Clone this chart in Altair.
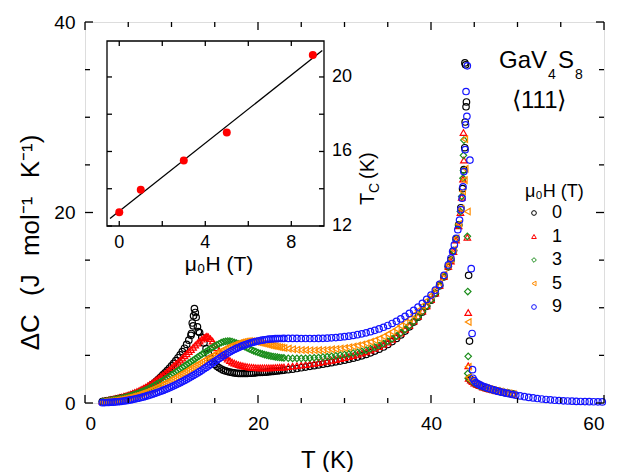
import altair as alt
import pandas as pd

FONT = "Liberation Sans"
W, H = 519, 381

# ---- main panel: excess specific heat vs temperature ----
T_GRID = [2.0, 2.5, 3.0, 3.5, 4.0, 4.5, 5.0, 5.5, 6.0, 6.5, 7.0, 7.5, 8.0, 8.5, 9.0, 9.5,
          10.0, 10.5, 11.0, 11.5, 12.0, 12.5, 13.0, 13.5, 14.0, 14.5, 15.0, 15.5, 16.0, 16.5,
          17.0, 17.5, 18.0, 18.5, 19.0, 19.5, 20.0, 20.5, 21.0, 21.5, 22.0, 22.5, 23.0, 23.5,
          24.0, 24.5, 25.0, 25.5, 26.0, 26.5, 27.0, 27.5, 28.0, 28.5, 29.0, 29.5, 30.0, 30.5,
          31.0, 31.5, 32.0, 32.5, 33.0, 33.5, 34.0, 34.5, 35.0, 35.5, 36.0, 36.5, 37.0, 37.5,
          38.0, 38.5, 39.0, 39.5, 40.0, 40.5, 41.0, 41.5, 42.0]

C_0T = [0.15, 0.22, 0.3, 0.38, 0.48, 0.58, 0.7, 0.85, 1.02, 1.22, 1.45, 1.75, 2.1, 2.5, 2.95, 3.4,
        3.9, 4.45, 5.05, 5.75, 6.6, 8.1, 8.0, 6.9, 5.7, 4.7, 4.05, 3.7, 3.45, 3.3,
        3.2, 3.12, 3.1, 3.1, 3.12, 3.15, 3.2, 3.22, 3.25, 3.3, 3.35, 3.4, 3.45, 3.5,
        3.55, 3.62, 3.7, 3.77, 3.85, 3.92, 4.0, 4.08, 4.15, 4.23, 4.32, 4.4, 4.5, 4.6,
        4.7, 4.82, 4.95, 5.1, 5.27, 5.45, 5.65, 5.88, 6.15, 6.45, 6.78, 7.15, 7.55, 8.0,
        8.5, 9.0, 9.55, 10.15, 10.8, 11.5, 12.3, 13.25, 14.3]

C_1T = [0.2, 0.27, 0.36, 0.46, 0.57, 0.7, 0.85, 1.02, 1.2, 1.42, 1.66, 1.95, 2.25, 2.6, 2.95, 3.3,
        3.7, 4.1, 4.5, 4.95, 5.4, 5.85, 6.3, 6.7, 6.95, 6.75, 6.15, 5.5, 5.0, 4.6,
        4.3, 4.1, 3.95, 3.85, 3.78, 3.73, 3.7, 3.69, 3.69, 3.7, 3.72, 3.75, 3.78, 3.82,
        3.87, 3.92, 3.97, 4.03, 4.1, 4.17, 4.24, 4.32, 4.4, 4.48, 4.57, 4.66, 4.76, 4.86,
        4.97, 5.1, 5.24, 5.38, 5.55, 5.73, 5.93, 6.15, 6.4, 6.68, 7.0, 7.35, 7.73, 8.15,
        8.6, 9.1, 9.65, 10.2, 10.85, 11.55, 12.35, 13.3, 14.35]

C_3T = [0.15, 0.21, 0.28, 0.36, 0.45, 0.56, 0.68, 0.82, 0.98, 1.16, 1.36, 1.58, 1.82, 2.08, 2.36, 2.65,
        2.95, 3.25, 3.56, 3.87, 4.18, 4.49, 4.8, 5.1, 5.4, 5.7, 5.98, 6.22, 6.42, 6.5,
        6.45, 6.3, 6.1, 5.9, 5.68, 5.48, 5.3, 5.15, 5.02, 4.92, 4.84, 4.78, 4.73, 4.7,
        4.68, 4.68, 4.69, 4.7, 4.72, 4.75, 4.78, 4.82, 4.86, 4.91, 4.96, 5.02, 5.08, 5.15,
        5.23, 5.32, 5.43, 5.55, 5.7, 5.86, 6.04, 6.25, 6.48, 6.74, 7.03, 7.36, 7.72, 8.12,
        8.56, 9.05, 9.6, 10.18, 10.82, 11.52, 12.32, 13.28, 14.35]

C_5T = [0.1, 0.15, 0.2, 0.27, 0.35, 0.44, 0.55, 0.67, 0.8, 0.96, 1.13, 1.32, 1.52, 1.74, 1.97, 2.21,
        2.46, 2.72, 2.98, 3.25, 3.52, 3.8, 4.07, 4.34, 4.6, 4.86, 5.11, 5.36, 5.6, 5.82,
        6.02, 6.2, 6.35, 6.46, 6.5, 6.47, 6.38, 6.27, 6.16, 6.05, 5.95, 5.86, 5.78, 5.71,
        5.65, 5.6, 5.57, 5.55, 5.54, 5.54, 5.55, 5.57, 5.6, 5.63, 5.67, 5.72, 5.78, 5.85,
        5.93, 6.03, 6.14, 6.27, 6.42, 6.59, 6.78, 6.99, 7.23, 7.49, 7.78, 8.1, 8.45, 8.83,
        9.25, 9.7, 10.2, 10.72, 11.3, 11.95, 12.65, 13.5, 14.5]

C_9T = [0.03, 0.05, 0.08, 0.11, 0.15, 0.21, 0.28, 0.37, 0.47, 0.58, 0.7, 0.84, 0.99, 1.15, 1.32, 1.5,
        1.7, 1.91, 2.13, 2.37, 2.62, 2.88, 3.15, 3.44, 3.74, 4.05, 4.36, 4.67, 4.97, 5.25,
        5.5, 5.73, 5.93, 6.11, 6.27, 6.4, 6.51, 6.6, 6.67, 6.72, 6.75, 6.77, 6.78, 6.78,
        6.78, 6.78, 6.77, 6.77, 6.77, 6.77, 6.78, 6.79, 6.81, 6.84, 6.87, 6.91, 6.96, 7.02,
        7.09, 7.17, 7.26, 7.37, 7.49, 7.63, 7.78, 7.95, 8.14, 8.35, 8.58, 8.83, 9.1, 9.4,
        9.72, 10.07, 10.45, 10.87, 11.33, 11.85, 12.45, 13.4, 14.5]

# denser low-temperature sweep (between the grid points above)
T_FINE = [2.25, 2.75, 3.25, 3.75, 4.25, 4.75, 5.25, 5.75, 6.25, 6.75, 7.25, 7.75, 8.25, 8.75,
          9.25, 9.75, 10.25, 10.75, 11.25, 11.75, 12.25, 12.75, 13.25, 13.75, 14.25, 14.75,
          15.25, 15.75, 16.25, 16.75, 17.25, 17.75, 18.25, 18.75, 19.25, 19.75, 20.25, 20.75,
          21.25, 21.75, 22.25, 22.75]
F_0T = [0.18, 0.26, 0.34, 0.43, 0.53, 0.64, 0.77, 0.93, 1.12, 1.33, 1.6, 1.92, 2.3, 2.72,
        3.17, 3.65, 4.17, 4.75, 5.4, 6.15, 7.1, 9.5, 7.4, 6.3, 5.2, 4.35,
        3.85, 3.57, 3.37, 3.25, 3.16, 3.11, 3.1, 3.11, 3.13, 3.17, 3.21, 3.23,
        3.27, 3.32, 3.37, 3.42]
F_1T = [0.23, 0.31, 0.41, 0.51, 0.63, 0.77, 0.93, 1.11, 1.31, 1.54, 1.8, 2.1, 2.42, 2.77,
        3.12, 3.5, 3.9, 4.3, 4.72, 5.17, 5.62, 6.08, 6.5, 6.85, 6.95, 6.5,
        5.8, 5.25, 4.8, 4.45, 4.2, 4.02, 3.9, 3.81, 3.75, 3.71, 3.69, 3.69,
        3.69, 3.71, 3.73, 3.76]
F_3T = [0.18, 0.24, 0.32, 0.4, 0.5, 0.62, 0.75, 0.9, 1.07, 1.26, 1.47, 1.7, 1.95, 2.22,
        2.5, 2.8, 3.1, 3.4, 3.71, 4.02, 4.33, 4.64, 4.95, 5.25, 5.55, 5.84,
        6.1, 6.33, 6.47, 6.49, 6.38, 6.2, 6.0, 5.79, 5.58, 5.39, 5.22, 5.08,
        4.97, 4.88, 4.81, 4.75]
F_5T = [0.12, 0.17, 0.23, 0.31, 0.39, 0.49, 0.61, 0.73, 0.88, 1.04, 1.22, 1.42, 1.63, 1.85,
        2.09, 2.33, 2.59, 2.85, 3.11, 3.38, 3.66, 3.93, 4.2, 4.47, 4.73, 4.98,
        5.23, 5.48, 5.71, 5.92, 6.11, 6.28, 6.41, 6.49, 6.49, 6.43, 6.33, 6.22,
        6.1, 6.0, 5.9, 5.82]
F_9T = [0.04, 0.06, 0.09, 0.13, 0.18, 0.24, 0.32, 0.42, 0.52, 0.64, 0.77, 0.91, 1.07, 1.23,
        1.41, 1.6, 1.8, 2.02, 2.25, 2.5, 2.75, 3.01, 3.29, 3.59, 3.89, 4.2,
        4.51, 4.82, 5.11, 5.38, 5.62, 5.83, 6.02, 6.19, 6.34, 6.46, 6.56, 6.64,
        6.7, 6.74, 6.76, 6.77]

# additional points around the low-T anomaly and the sharp transition near 44 K
EXTRA_0T_T = [12.3, 12.4, 12.55, 12.65, 12.85, 13.1, 42.3, 42.6, 42.9, 43.2, 43.45, 43.65,
              43.8, 43.9, 43.95, 44.05, 44.1, 43.92, 44.0, 44.35, 44.45, 44.5]
EXTRA_0T_C = [7.3, 8.4, 9.15, 9.9, 9.0, 7.5, 15.0, 16.0, 17.2, 18.7, 20.5, 22.5,
              24.5, 26.8, 29.5, 31.1, 31.6, 35.7, 35.5, 13.4, 6.5, 2.5]
EXTRA_1T_T = [13.9, 14.1, 42.3, 42.6, 42.9, 43.2, 43.4, 43.55, 43.7, 43.8, 43.75, 44.2, 44.3,
              44.3, 44.35]
EXTRA_1T_C = [6.9, 7.0, 14.9, 15.9, 17.1, 18.6, 20.0, 21.6, 23.5, 25.5, 28.4, 17.4, 9.5,
              3.9, 2.6]
EXTRA_3T_T = [42.3, 42.6, 42.9, 43.2, 43.4, 43.55, 43.7, 43.75, 43.75, 43.8, 44.2,
              44.25, 44.3, 44.25, 44.3]
EXTRA_3T_C = [15.0, 16.0, 17.2, 18.7, 20.1, 21.7, 23.6, 24.4, 26.0, 27.6, 17.5,
              11.7, 4.9, 3.1, 2.6]
EXTRA_5T_T = [42.3, 42.6, 42.9, 43.2, 43.45, 43.65, 43.85, 43.95, 43.9, 44.2, 44.3,
              44.3, 44.35]
EXTRA_5T_C = [15.1, 16.1, 17.3, 18.8, 20.4, 22.2, 23.4, 24.6, 27.7, 20.1, 8.5,
              3.8, 2.7]
EXTRA_9T_T = [42.3, 42.5, 42.7, 42.9, 43.1, 43.3, 43.45, 43.6, 43.7, 43.8, 43.95, 44.0, 44.15,
              44.05, 44.2, 44.5, 44.65, 44.75, 44.8]
EXTRA_9T_C = [15.2, 15.9, 16.6, 17.3, 18.2, 19.2, 20.3, 21.5, 22.7, 24.3, 26.6, 29.2, 30.1,
              32.7, 35.4, 25.5, 14.1, 7.3, 3.5]

# paramagnetic tail above the transition
TAIL_T = [44.6, 44.8, 45.0, 45.3, 45.6, 46.0, 46.4, 46.8, 47.2, 47.6, 48.0, 48.5, 49.0, 49.5]
TAIL_C = [2.4, 2.25, 2.1, 1.95, 1.82, 1.68, 1.56, 1.46, 1.37, 1.28, 1.2, 1.1, 1.02, 0.93]
TAIL_9T_T = [44.85, 45.0, 45.2, 45.4, 45.6, 45.8, 46.0, 46.3, 46.6, 46.9, 47.2, 47.5, 47.8, 48.1,
             48.4, 48.7, 49.0, 49.4, 49.8, 50.3, 50.8, 51.3, 51.8, 52.3, 52.8, 53.3, 53.8, 54.3,
             54.8, 55.3, 55.8, 56.3, 56.8, 57.3, 57.8, 58.3, 58.8, 59.3, 59.8]
TAIL_9T_C = [2.6, 2.35, 2.15, 2.02, 1.92, 1.84, 1.76, 1.66, 1.56, 1.47, 1.38, 1.3, 1.22, 1.15,
             1.09, 1.03, 0.97, 0.89, 0.82, 0.74, 0.66, 0.59, 0.53, 0.47, 0.42, 0.37, 0.33, 0.29,
             0.26, 0.23, 0.21, 0.19, 0.17, 0.16, 0.15, 0.14, 0.13, 0.12, 0.11]

FIELDS = ["0", "1", "3", "5", "9"]
COLORS = ["#000000", "#ff0000", "#1a8c1a", "#ff8c00", "#1414ff"]
SHAPES = ["circle", "triangle-up", "diamond", "triangle-left", "circle"]

# ---- inset: transition temperature vs field ----
H_FIELD = [0, 1, 3, 5, 9]
T_C = [12.74, 13.94, 15.52, 17.02, 21.18]

X_MAJOR = [0, 20, 40, 60]
X_MINOR = [5, 10, 15, 25, 30, 35, 45, 50, 55]
Y_MAJOR = [0, 20, 40]
Y_MINOR = [5, 10, 15, 25, 30, 35]
IN_X_TICKS = [0, 2, 4, 6, 8]
IN_X_LABELS = [0, 4, 8]
IN_Y_TICKS = [12, 14, 16, 18, 20]
IN_Y_LABELS = [12, 16, 20]

series = [
    ("0", T_GRID + T_FINE + EXTRA_0T_T + TAIL_T, C_0T + F_0T + EXTRA_0T_C + TAIL_C),
    ("1", T_GRID + T_FINE + EXTRA_1T_T + TAIL_T, C_1T + F_1T + EXTRA_1T_C + TAIL_C),
    ("3", T_GRID + T_FINE + EXTRA_3T_T + TAIL_T, C_3T + F_3T + EXTRA_3T_C + TAIL_C),
    ("5", T_GRID + T_FINE + EXTRA_5T_T + TAIL_T, C_5T + F_5T + EXTRA_5T_C + TAIL_C),
    ("9", T_GRID + T_FINE + EXTRA_9T_T + TAIL_9T_T, C_9T + F_9T + EXTRA_9T_C + TAIL_9T_C),
]
rows = []
for i, (f, ts, cs) in enumerate(series):
    for t, c in zip(ts, cs):
        rows.append({"T": t, "C": c, "field": f, "k": i})
df = pd.DataFrame(rows)

x_main = alt.Scale(domain=[0, 60], range=[0, W], nice=False, zero=False)
y_main = alt.Scale(domain=[0, 40], range=[H, 0], nice=False, zero=False)

legend = alt.Legend(
    title="μ₀H (T)", orient="none", legendX=440, legendY=161, padding=0,
    titleFont=FONT, titleFontSize=18, titleFontWeight="normal", titleColor="black",
    titlePadding=3, labelFont=FONT, labelFontSize=18, labelColor="black",
    labelOffset=9, rowPadding=5.5, symbolSize=22, symbolStrokeWidth=1,
)

Y_TITLE = "ΔC\u2002\u2009(J\u2002\u2009mol⁻¹\u2002\u2009K⁻¹)"

scatter = alt.Chart(df).mark_point(filled=False, size=42, strokeWidth=1.2, opacity=1).encode(
    x=alt.X("T:Q", scale=x_main, axis=alt.Axis(
        values=X_MAJOR, ticks=False, domain=False, grid=False, labelFont=FONT,
        labelFontSize=19, labelColor="black", labelPadding=11, title="T (K)",
        titleFont=FONT, titleFontSize=24, titleFontWeight="normal", titleColor="black",
        titleX=242, titleY=64, titleBaseline="alphabetic")),
    y=alt.Y("C:Q", scale=y_main, axis=alt.Axis(
        values=Y_MAJOR, ticks=False, domain=False, grid=False, labelFont=FONT,
        labelFontSize=19, labelColor="black", labelPadding=10,
        title=Y_TITLE, titleFont=FONT, titleFontSize=26,
        titleFontWeight="normal", titleColor="black", titleAngle=270,
        titleX=-47, titleY=220, titleBaseline="alphabetic", titleAlign="center")),
    color=alt.Color("field:N", scale=alt.Scale(domain=FIELDS, range=COLORS), legend=legend),
    shape=alt.Shape("field:N", scale=alt.Scale(domain=FIELDS, range=SHAPES), legend=legend),
    order=alt.Order("k:Q"),
)


def tick_marks(values, scale, vertical, edge_px, length, inward, thick=1.3):
    """Short inward tick marks along one edge of a frame."""
    center = edge_px + inward * length / 2.0
    d = pd.DataFrame({"v": values})
    base = alt.Chart(d).mark_tick(
        color="black", opacity=1, thickness=thick, size=length,
        orient="vertical" if vertical else "horizontal")
    if vertical:
        return base.encode(x=alt.X("v:Q", scale=scale, axis=None), y=alt.value(center))
    return base.encode(y=alt.Y("v:Q", scale=scale, axis=None), x=alt.value(center))


main_ticks = [
    tick_marks(X_MAJOR, x_main, True, H, 8, -1), tick_marks(X_MINOR, x_main, True, H, 5, -1),
    tick_marks(X_MAJOR, x_main, True, 0, 8, 1), tick_marks(X_MINOR, x_main, True, 0, 5, 1),
    tick_marks(Y_MAJOR, y_main, False, 0, 8, 1), tick_marks(Y_MINOR, y_main, False, 0, 5, 1),
    tick_marks(Y_MAJOR, y_main, False, W, 8, -1), tick_marks(Y_MINOR, y_main, False, W, 5, -1),
]

ONE = pd.DataFrame({"a": [0]})


def label(txt, x, y, size, angle=0, align="left", baseline="alphabetic"):
    return alt.Chart(ONE).mark_text(
        text=txt, font=FONT, fontSize=size, align=align, baseline=baseline,
        angle=angle, color="black").encode(x=alt.value(x), y=alt.value(y))


# compound name and direction
annotations = [
    label("GaV", 414, 46, 24), label("4", 463, 57, 14),
    label("S", 473, 46, 24), label("8", 490, 57, 14),
    label("⟨111⟩", 427, 86, 24),
]

# ---- inset layers ----
IN_L, IN_R, IN_T, IN_B = 22, 239, 19, 204
x_in = alt.Scale(domain=[-0.57, 9.52], range=[IN_L, IN_R], nice=False, zero=False)
y_in = alt.Scale(domain=[12, 21.93], range=[IN_B, IN_T], nice=False, zero=False)

inset_df = pd.DataFrame({"H": H_FIELD, "Tc": T_C})

frame = alt.Chart(ONE).mark_rect(fill="white", stroke="black", strokeWidth=1.3).encode(
    x=alt.value(IN_L), x2=alt.value(IN_R), y=alt.value(IN_T), y2=alt.value(IN_B))

fit = alt.Chart(inset_df).transform_regression(
    "H", "Tc", extent=[-0.43, 9.44]).mark_line(color="black", strokeWidth=1.3).encode(
    x=alt.X("H:Q", scale=x_in, axis=None), y=alt.Y("Tc:Q", scale=y_in, axis=None))

dots = alt.Chart(inset_df).mark_circle(size=64, color="#ff0000", opacity=1).encode(
    x=alt.X("H:Q", scale=x_in, axis=None), y=alt.Y("Tc:Q", scale=y_in, axis=None))

inset_ticks = [
    tick_marks(IN_X_TICKS, x_in, True, IN_B, 5, -1),
    tick_marks(IN_X_TICKS, x_in, True, IN_T, 5, 1),
    tick_marks(IN_Y_TICKS, y_in, False, IN_L, 5, 1),
    tick_marks(IN_Y_TICKS, y_in, False, IN_R, 5, -1),
]

in_xlab = alt.Chart(pd.DataFrame({"v": IN_X_LABELS})).mark_text(
    font=FONT, fontSize=18, baseline="alphabetic", color="black").encode(
    x=alt.X("v:Q", scale=x_in, axis=None), y=alt.value(IN_B + 22), text="v:Q")
in_ylab = alt.Chart(pd.DataFrame({"v": IN_Y_LABELS})).mark_text(
    font=FONT, fontSize=18, baseline="middle", align="left", color="black").encode(
    y=alt.Y("v:Q", scale=y_in, axis=None), x=alt.value(IN_R + 8), text="v:Q")

inset_titles = [
    label("μ₀H (T)", 134, 249, 21, align="center"),
    label("T", 289, 183, 20, angle=270),
    label("C", 294, 171, 14, angle=270),
    label("(K)", 289, 157, 20, angle=270),
]

chart = alt.layer(
    scatter, frame, fit, dots, *main_ticks, *inset_ticks, in_xlab, in_ylab,
    *inset_titles, *annotations,
).resolve_scale(x="independent", y="independent").properties(
    width=W, height=H,
    autosize=alt.AutoSizeParams(type="none"),
    padding={"left": 85, "top": 22, "right": 13, "bottom": 69},
).configure_view(stroke="black", strokeWidth=1.6).configure(background="white")

chart.save("out.html", embed_options={"renderer": "svg", "actions": False})
